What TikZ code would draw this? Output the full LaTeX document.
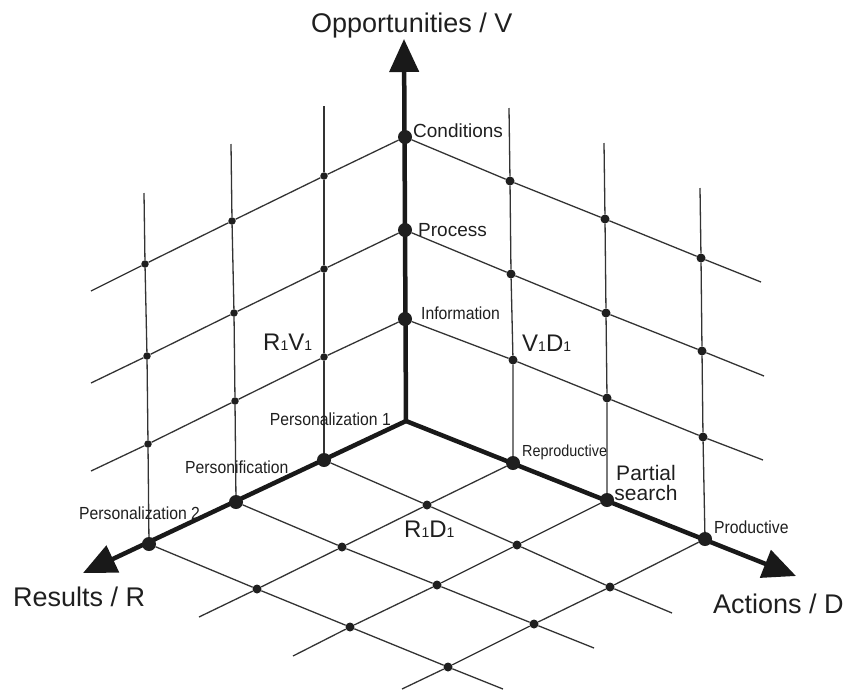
\documentclass[tikz,border=0pt]{standalone}
\usepackage{fontspec}
\setmainfont{Liberation Sans}
\newfontfamily\narrowfont[FakeStretch=0.9]{Liberation Sans}
\usetikzlibrary{arrows.meta,shapes}
\pgfdeclarelayer{background}
\pgfsetlayers{background,main}
\tikzstyle{axisdot}=[circle, fill=black!88
,minimum size=14pt
,inner sep=0pt
]
\tikzstyle{griddot}=[circle, fill=black!88
,minimum size=9pt
,inner sep=0pt
]
\tikzstyle{gridline} = [draw,line width=1.3pt,black!80]
\tikzstyle{axisline} = [draw,line width=4.5pt,black!90,line cap=round,-{Triangle[length=33pt,width=29pt]}]
\tikzstyle{axislabel} = [inner sep=0pt,text=black!88,font=\fontsize{27}{30}\selectfont]
\tikzstyle{planelabel} = [inner sep=0pt,text=black!88,font=\fontsize{24}{26}\selectfont]
\tikzstyle{ticklabel} = [inner sep=0pt,text=black!88,font=\fontsize{19}{20}\selectfont]
\tikzstyle{narrowlabel} = [inner sep=0pt,text=black!88,font=\narrowfont\fontsize{17.5}{20}\selectfont]
\newcommand{\lowidx}[1]{{\fontsize{14}{14}\selectfont #1}}

\begin{document}
\begin{tikzpicture}[x=1pt,y=-1pt]
    \useasboundingbox (0,0) rectangle (848,689);
    % Origin and arrow ends of the three axes
    \coordinate (O) at (406,421);
    \foreach \pos/\name in {{(404,39)/V_t}, {(83,573)/R_t}, {(796,576)/D_t}}
        \node[coordinate] (\name) at \pos {};

    % Ticks on the axes
    \foreach \pos/\name in {{(405,319)/V_1}, {(405,230)/V_2}, {(405,137)/V_3}, {(324,460)/R_1}, {(236,502)/R_2}, {(149,544)/R_3}, {(513,463)/D_1}, {(607,500)/D_2}, {(705,539)/D_3}}
        \node[axisdot] (\name) at \pos {};

    % Crossings in the R-V wall, the V-D wall and the R-D floor
    \foreach \pos/\name in {{(324,357)/RV11}, {(324,269)/RV12}, {(324,176)/RV13}, {(235,401)/RV21}, {(234,313)/RV22}, {(232,221)/RV23}, {(148,444)/RV31}, {(147,356)/RV32}, {(145,264)/RV33}}
        \node[griddot, minimum size=7.5pt] (\name) at \pos {};
    \foreach \pos/\name in {{(513,360)/VD11}, {(511,274)/VD12}, {(510,181)/VD13}, {(607,398)/VD21}, {(606,313)/VD22}, {(605,219)/VD23}, {(703,437)/VD31}, {(702,351)/VD32}, {(701,258)/VD33}}
        \node[griddot] (\name) at \pos {};
    \foreach \pos/\name in {{(427,505)/RD11}, {(517,545)/RD12}, {(610,587)/RD13}, {(342,547)/RD21}, {(437,585)/RD22}, {(534,624)/RD23}, {(257,589)/RD31}, {(350,627)/RD32}, {(448,667)/RD33}}
        \node[griddot] (\name) at \pos {};

    % Free ends of the grid lines
    \foreach \pos/\name in {{(324,106)/rt1}, {(231,144)/rt2}, {(144,193)/rt3}, {(91,471)/rl1}, {(91,383)/rl2}, {(91,291)/rl3}, {(509,108)/dt1}, {(604,143)/dt2}, {(700,188)/dt3}, {(763,460)/dr1}, {(764,376)/dr2}, {(761,282)/dr3}, {(672,613)/fd1}, {(594,648)/fd2}, {(503,689)/fd3}, {(199,617)/fr1}, {(293,656)/fr2}, {(402,689)/fr3}}
        \node[coordinate] (\name) at \pos {};

    \begin{pgfonlayer}{background}
    % Grid lines
    \foreach \pa/\pb/\pc/\pd/\pe in {R_1/RV11/RV12/RV13/rt1, R_2/RV21/RV22/RV23/rt2, R_3/RV31/RV32/RV33/rt3, V_1/RV11/RV21/RV31/rl1, V_2/RV12/RV22/RV32/rl2, V_3/RV13/RV23/RV33/rl3, D_1/VD11/VD12/VD13/dt1, D_2/VD21/VD22/VD23/dt2, D_3/VD31/VD32/VD33/dt3, V_1/VD11/VD21/VD31/dr1, V_2/VD12/VD22/VD32/dr2, V_3/VD13/VD23/VD33/dr3, R_1/RD11/RD12/RD13/fd1, R_2/RD21/RD22/RD23/fd2, R_3/RD31/RD32/RD33/fd3, D_1/RD11/RD21/RD31/fr1, D_2/RD12/RD22/RD32/fr2, D_3/RD13/RD23/RD33/fr3}
        \path[gridline] (\pa) -- (\pb) -- (\pc) -- (\pd) -- (\pe);
    % Axes
    \foreach \dest in {V_t, R_t, D_t}
        \path[axisline] (O) -- (\dest);
    \end{pgfonlayer}

    % Axis names
    \node[axislabel, anchor=base west] (Vname) at (311,32) {Opportunities / V};
    \node[axislabel, anchor=base west] (Rname) at (13,606) {Results / R};
    \node[axislabel, anchor=base west] (Dname) at (713,613) {Actions / D};

    % Tick names
    \node[ticklabel, anchor=base west] (Vlab3) at (413,137) {Conditions};
    \node[ticklabel, anchor=base west] (Vlab2) at (418,236) {Process};
    \node[narrowlabel, anchor=base west] (Vlab1) at (421,319) {Information};
    \node[narrowlabel, anchor=base east] (Rlab1) at (391,425) {Personalization 1};
    \node[narrowlabel, anchor=base west] (Rlab2) at (185,473) {Personification};
    \node[narrowlabel, anchor=base west] (Rlab3) at (79,519) {Personalization 2};
    \node[narrowlabel, anchor=base west, font=\narrowfont\fontsize{16}{18}\selectfont] (Dlab1) at (522,456) {Reproductive};
    \node[ticklabel, align=center, font=\fontsize{21}{20}\selectfont] (Dlab2) at (646,483) {Partial\\search};
    \node[narrowlabel, anchor=base west] (Dlab3) at (714,533) {Productive};

    % Plane names
    \node[planelabel, anchor=base west] (RV) at (263,350) {R\lowidx{1}V\lowidx{1}};
    \node[planelabel, anchor=base west] (VD) at (522,351) {V\lowidx{1}D\lowidx{1}};
    \node[planelabel, anchor=base west] (RD) at (404,537) {R\lowidx{1}D\lowidx{1}};
\end{tikzpicture}
\end{document}
